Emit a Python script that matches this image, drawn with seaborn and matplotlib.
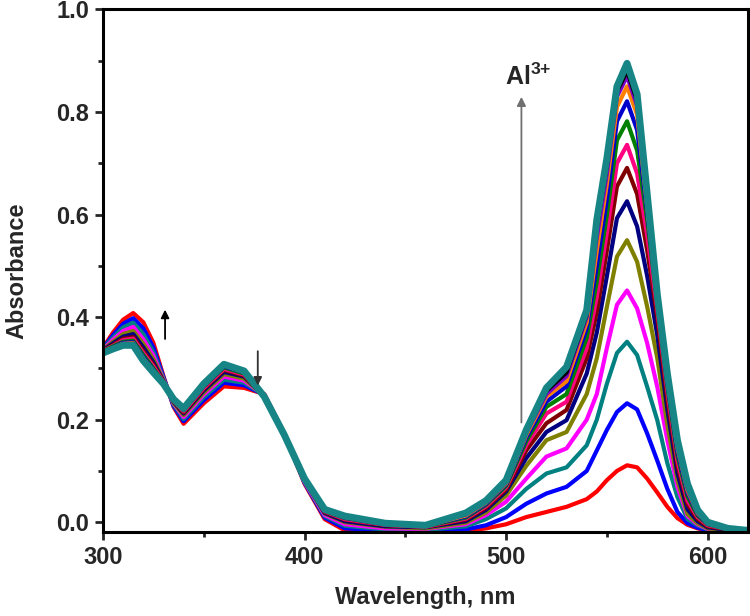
import matplotlib
matplotlib.use("Agg")
import matplotlib.pyplot as plt
import seaborn as sns

# wavelength grid (nm)
wavelength = [300, 305, 310, 315, 320, 325, 330, 335, 340, 350, 360, 370, 380, 390, 400, 410, 420, 440, 460,
              480, 490, 500, 510, 520, 530, 540, 545, 550, 555, 560, 565, 570, 575, 580, 585, 590, 595, 600, 610, 620]

# absorbance spectra, one per Al3+ addition
abs_00 = [.340, .370, .395, .408, .390, .350, .285, .225, .192, .232, .265, .262, .250, .172, .075, .006, -.016, -.019, -.019,
          -.017, -.012, -.004, .010, .020, .030, .045, .060, .082, .100, .111, .107, .085, .058, .030, .008, -.005, -.012, -.016, -.018, -.019]
abs_01 = [.339, .365, .387, .398, .378, .341, .283, .227, .197, .238, .272, .267, .249, .172, .077, .009, -.012, -.016, -.017,
          -.014, -.006, .010, .036, .056, .069, .100, .140, .180, .215, .232, .220, .173, .120, .065, .020, -.002, -.011, -.015, -.018, -.019]
abs_02 = [.338, .360, .380, .389, .367, .332, .280, .230, .201, .244, .278, .272, .248, .171, .078, .012, -.007, -.014, -.015,
          -.008, .006, .027, .065, .095, .107, .150, .200, .270, .330, .352, .326, .264, .199, .115, .049, .006, -.006, -.014, -.017, -.018]
abs_03 = [.337, .356, .373, .381, .357, .325, .278, .232, .205, .249, .284, .276, .248, .171, .079, .014, -.004, -.012, -.013,
          -.004, .014, .040, .085, .128, .144, .200, .250, .340, .424, .452, .417, .349, .264, .160, .069, .012, -.004, -.013, -.017, -.018]
abs_04 = [.336, .352, .367, .373, .348, .318, .277, .233, .209, .253, .289, .280, .247, .171, .081, .017, .000, -.009, -.012,
          -.001, .019, .052, .110, .160, .176, .250, .320, .420, .518, .550, .508, .420, .320, .190, .082, .016, -.002, -.012, -.016, -.018]
abs_05 = [.335, .349, .362, .367, .341, .312, .275, .235, .212, .257, .293, .284, .247, .170, .082, .018, .002, -.008, -.010,
          .002, .024, .060, .125, .176, .199, .290, .370, .480, .593, .626, .577, .480, .365, .220, .095, .025, .002, -.010, -.015, -.017]
abs_06 = [.334, .346, .358, .361, .334, .307, .274, .236, .214, .260, .297, .286, .246, .170, .082, .020, .005, -.006, -.009,
          .005, .028, .064, .140, .193, .219, .320, .410, .530, .655, .691, .640, .530, .400, .240, .110, .035, .006, -.008, -.014, -.017]
abs_07 = [.334, .344, .355, .358, .330, .304, .273, .237, .216, .262, .299, .288, .246, .170, .083, .021, .006, -.005, -.009,
          .007, .031, .068, .150, .212, .235, .340, .440, .565, .700, .736, .680, .560, .415, .255, .120, .042, .010, -.006, -.013, -.016]
abs_08 = [.333, .343, .352, .354, .326, .300, .272, .238, .218, .265, .302, .290, .246, .170, .084, .022, .008, -.004, -.008,
          .009, .034, .071, .158, .225, .250, .360, .470, .600, .745, .782, .725, .590, .425, .265, .130, .050, .013, -.004, -.013, -.016]
abs_09 = [.332, .341, .350, .351, .322, .297, .271, .239, .219, .266, .304, .292, .245, .170, .084, .023, .009, -.004, -.007,
          .011, .036, .074, .165, .235, .265, .378, .500, .630, .782, .821, .765, .605, .432, .272, .138, .057, .016, -.003, -.012, -.016]
abs_10 = [.332, .340, .348, .349, .319, .295, .271, .239, .220, .268, .306, .293, .245, .170, .084, .024, .010, -.003, -.007,
          .013, .038, .076, .170, .245, .275, .390, .530, .660, .810, .850, .795, .615, .436, .280, .145, .062, .018, -.002, -.012, -.016]
abs_11 = [.331, .339, .347, .347, .317, .294, .270, .240, .221, .269, .307, .294, .245, .170, .085, .024, .011, -.003, -.006,
          .015, .040, .078, .174, .250, .285, .400, .555, .680, .830, .870, .812, .625, .438, .284, .150, .066, .020, -.001, -.012, -.016]
abs_12 = [.331, .339, .346, .346, .316, .293, .270, .240, .221, .269, .307, .294, .245, .170, .085, .025, .011, -.002, -.006,
          .016, .041, .080, .177, .256, .292, .405, .575, .695, .840, .880, .822, .632, .440, .287, .155, .070, .022, .000, -.012, -.016]
abs_13 = [.330, .338, .345, .345, .315, .292, .270, .240, .222, .270, .308, .295, .245, .170, .085, .025, .012, -.002, -.006,
          .018, .042, .082, .180, .262, .303, .414, .590, .710, .850, .895, .835, .640, .445, .290, .160, .075, .024, .000, -.012, -.016]

spectra = [abs_00, abs_01, abs_02, abs_03, abs_04, abs_05, abs_06,
           abs_07, abs_08, abs_09, abs_10, abs_11, abs_12, abs_13]
colors = ["#ff0000", "#0000ff", "#008080", "#ff00ff", "#808000", "#000080", "#800000",
          "#ff0080", "#008000", "#0000cd", "#ff8000", "#8000c8", "#000000", "#178585"]

x_ticks = [300, 400, 500, 600]
y_ticks = [0.0, 0.2, 0.4, 0.6, 0.8, 1.0]

sns.set_style("ticks")
plt.rcParams["font.family"] = ["Liberation Sans", "DejaVu Sans"]
plt.rcParams["font.weight"] = "bold"
plt.rcParams["mathtext.fontset"] = "custom"
plt.rcParams["mathtext.bf"] = "Liberation Sans:bold"
plt.rcParams["mathtext.rm"] = "Liberation Sans:bold"

fig = plt.figure(figsize=(7.5, 6.16), dpi=100)
ax = fig.add_axes([0.1373, 0.1356, 0.86, 0.849])

for i, (vals, col) in enumerate(zip(spectra, colors)):
    lw = 5.0 if i == len(spectra) - 1 else 3.0
    sns.lineplot(x=wavelength, y=vals, color=col, linewidth=lw, ax=ax, sort=False)

ax.set_xlim(300, 620)
ax.set_ylim(-0.02, 1.0)
ax.set_xticks(x_ticks)
ax.set_xticks([350, 450, 550], minor=True)
ax.set_yticks(y_ticks)
ax.set_yticks([0.1, 0.3, 0.5, 0.7, 0.9], minor=True)
ax.set_yticklabels([f"{v:.1f}" for v in y_ticks])
ax.tick_params(which="major", direction="out", length=6, width=2, labelsize=17, pad=4)
ax.tick_params(which="minor", direction="out", length=3.5, width=2)
for sp in ax.spines.values():
    sp.set_linewidth(2.2)
    sp.set_color("black")

ax.set_xlabel("Wavelength, nm", fontsize=17, fontweight="bold", labelpad=12)
ax.set_ylabel("Absorbance", fontsize=17, fontweight="bold", labelpad=20)

# arrows
ax.annotate("", xy=(507.6, 0.835), xytext=(507.6, 0.189),
            arrowprops=dict(arrowstyle="-|>", color="#707070", lw=1.3, mutation_scale=13))
ax.text(499.5, 0.852, r"$\mathbf{Al^{3{+}}}$", fontsize=18, ha="left", va="baseline")
ax.annotate("", xy=(330.8, 0.42), xytext=(330.8, 0.352),
            arrowprops=dict(arrowstyle="-|>", color="black", lw=1.3, mutation_scale=12))
ax.annotate("", xy=(376.8, 0.261), xytext=(376.8, 0.339),
            arrowprops=dict(arrowstyle="-|>", color="#303030", lw=1.3, mutation_scale=12))

fig.savefig("out.png", dpi=100)
